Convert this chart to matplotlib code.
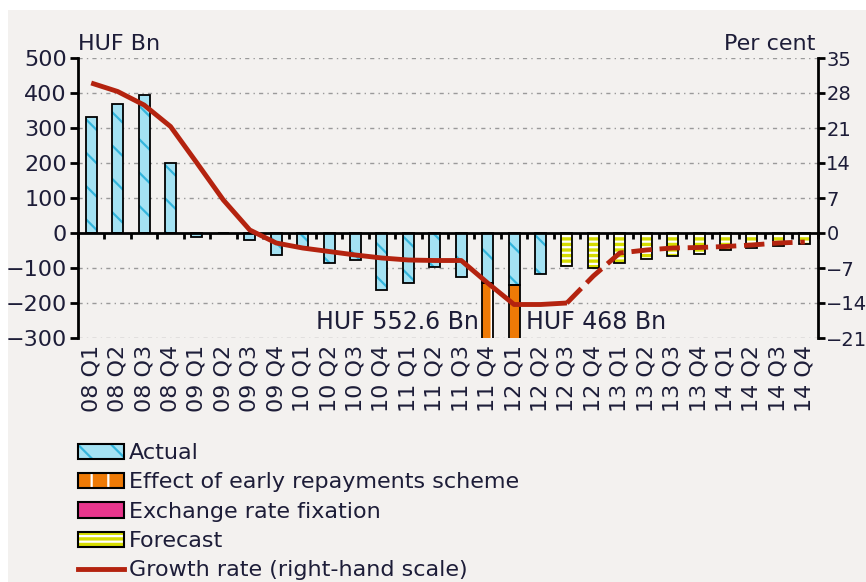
import matplotlib
matplotlib.use("Agg")
import matplotlib.pyplot as plt
import numpy as np
from matplotlib.patches import Patch, Rectangle
from matplotlib.lines import Line2D
from matplotlib.legend_handler import HandlerTuple

# Data
years = ["08", "09", "10", "11", "12", "13", "14"]
quarters = [f"{y} Q{q}" for y in years for q in range(1, 5)]

nan = np.nan
actual = [330, 370, 395, 200, -12, 0, -21, -62,
          -40, -85, -77, -163, -142, -96, -125, -143,
          -148, -117, nan, nan, nan, nan, nan, nan,
          nan, nan, nan, nan]
early_repay = [nan] * 15 + [-552.6, -468.0] + [nan] * 11
forecast = [nan] * 18 + [-93, -100, -87, -75, -65, -60, -48, -42, -37, -32]
growth = [30.0, 28.3, 25.6, 21.3, 14.0, 6.6, 0.6, -2.0,
          -3.0, -3.7, -4.4, -5.0, -5.4, -5.5, -5.5, -10.0,
          -14.3, -14.3, -14.0, -8.6, -4.0, -3.4, -3.0, -2.9,
          -2.7, -2.4, -2.0, -1.8]
last_actual_growth = 18  # 12 Q3, dashed afterwards

annotations = [("HUF 552.6 Bn", 15, "right"), ("HUF 468 Bn", 16, "left")]

legend_labels = ["Actual", "Effect of early repayments scheme",
                 "Exchange rate fixation", "Forecast",
                 "Growth rate (right-hand scale)"]

# Styles
bg = "#f3f1ef"
txt = "#1d1d38"
c_actual, c_actual_h = "#a4e2f3", "#34b5dc"
c_repay = "#ee7a06"
c_fix = "#e8368c"
c_fore = "#d5dc00"
c_line = "#b4230f"

plt.rcParams["font.family"] = "DejaVu Sans"
plt.rcParams["font.size"] = 16
plt.rcParams["hatch.linewidth"] = 1.6

fig = plt.figure(figsize=(8.66, 5.82), dpi=100)
fig.patch.set_facecolor("white")
fig.patches.append(Rectangle((8 / 866, 0), 1, 1 - 10 / 582, transform=fig.transFigure,
                             facecolor=bg, edgecolor="none", zorder=-10))

ax = fig.add_axes([78 / 866, 1 - 338 / 582, 740 / 866, 280 / 582])
ax.set_facecolor(bg)

x = np.arange(len(quarters))
w = 0.42
actual_arr = np.array(actual, dtype=float)

# bars: hatch layer then black outline layer
ax.bar(x, actual, w, color=c_actual, edgecolor=c_actual_h, hatch="\\", lw=0, zorder=2)
ax.bar(x, actual, w, fill=False, edgecolor="black", lw=1.3, zorder=3)
ax.bar(x, early_repay, w, bottom=np.nan_to_num(actual_arr), color=c_repay,
       edgecolor="white", hatch="|", lw=0, zorder=2)
ax.bar(x, early_repay, w, bottom=np.nan_to_num(actual_arr), fill=False,
       edgecolor="black", lw=1.3, zorder=3)
ax.bar(x, forecast, w, color=c_fore, edgecolor="white", hatch="---", lw=0, zorder=2)
ax.bar(x, forecast, w, fill=False, edgecolor="black", lw=1.3, zorder=3)

ax.set_xlim(-0.5, len(quarters) - 0.5)
ax.set_ylim(-300, 500)
ax.set_yticks(np.arange(-300, 501, 100))
for v in np.arange(-300, 501, 100):
    if v != 0:
        ax.axhline(v, color="#9a9a9a", lw=1, ls=(0, (3, 3, 1, 3)), zorder=1)

ax.spines["top"].set_visible(False)
ax.spines["right"].set_visible(False)
ax.spines["left"].set_linewidth(2)
ax.spines["bottom"].set_position(("data", 0))
ax.spines["bottom"].set_linewidth(2)
ax.spines["bottom"].set_zorder(4)
ax.set_xticks([])
ax.set_xticks(np.arange(-0.5, len(quarters), 1), minor=True)
ax.tick_params(axis="x", which="minor", direction="out", length=4, width=2)
ax.tick_params(axis="y", direction="out", length=6, width=2, colors="black",
               labelcolor=txt, pad=2)

# category labels at the bottom of the plot
sec = ax.secondary_xaxis(0)
sec.set_xticks(x, labels=quarters, rotation=90)
sec.spines["bottom"].set_visible(False)
sec.tick_params(length=0, pad=5, labelcolor=txt)

ax2 = ax.twinx()
ax2.set_ylim(-21, 35)
ax2.set_yticks(np.arange(-21, 36, 7))
ax2.spines["top"].set_visible(False)
ax2.spines["left"].set_visible(False)
ax2.spines["bottom"].set_visible(False)
ax2.spines["right"].set_linewidth(2)
ax2.tick_params(axis="y", direction="out", length=5, width=2, colors="black",
                labelcolor=txt, pad=1, labelsize=14)
ax2.plot(x[:last_actual_growth + 1], growth[:last_actual_growth + 1],
         color=c_line, lw=3.5, solid_capstyle="butt", solid_joinstyle="round")
ax2.plot(x[last_actual_growth:], growth[last_actual_growth:],
         color=c_line, lw=3.5, dashes=(4.2, 1.6))

for label, idx, ha in annotations:
    off = -0.35 if ha == "right" else 0.45
    ax.text(idx + off, -255, label, ha=ha, va="center", color=txt, fontsize=17, zorder=5)

fig.text(78 / 866, 1 - 50 / 582, "HUF Bn", ha="left", va="baseline", color=txt, fontsize=16)
fig.text(815 / 866, 1 - 50 / 582, "Per cent", ha="right", va="baseline", color=txt, fontsize=16)

# legend
h_actual = (Patch(facecolor=c_actual, edgecolor=c_actual_h, hatch="\\", lw=0),
            Patch(fill=False, edgecolor="black", lw=1.5))
h_repay = (Patch(facecolor=c_repay, edgecolor="white", hatch="|", lw=0),
           Patch(fill=False, edgecolor="black", lw=1.5))
h_fix = Patch(facecolor=c_fix, edgecolor="black", lw=1.5)
h_fore = (Patch(facecolor=c_fore, edgecolor="white", hatch="---", lw=0),
          Patch(fill=False, edgecolor="black", lw=1.5))
h_line = Line2D([], [], color=c_line, lw=3.5)
leg = fig.legend([h_actual, h_repay, h_fix, h_fore, h_line], legend_labels,
                 loc="upper left", bbox_to_anchor=(78 / 866, 1 - 443 / 582),
                 frameon=False, fontsize=16, handlelength=2.05, handleheight=0.68,
                 handletextpad=0.25, labelspacing=0.42, borderaxespad=0,
                 borderpad=0, labelcolor=txt,
                 handler_map={tuple: HandlerTuple(ndivide=1, pad=0)})

fig.savefig("out.png", dpi=100, facecolor=fig.get_facecolor())
